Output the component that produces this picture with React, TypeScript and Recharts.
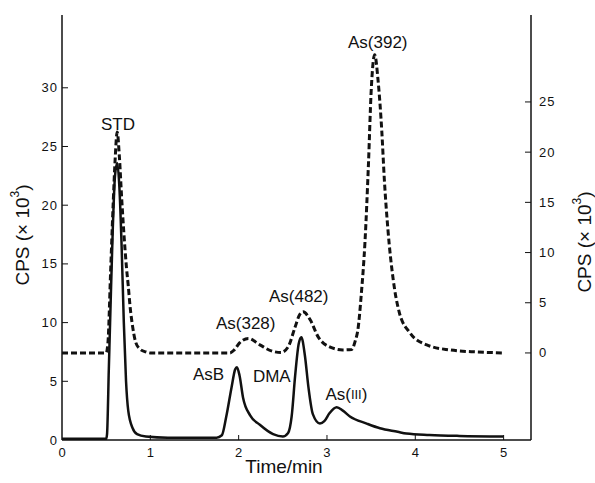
import { LineChart, Line, XAxis, YAxis, ReferenceDot } from "recharts";

const FONT = '"Liberation Sans", Arial, Helvetica, sans-serif';
const INK = "#111";

// axis ticks
const TIME_TICKS = [0, 1, 2, 3, 4, 5];
const LEFT_TICKS = [0, 5, 10, 15, 20, 25, 30];
const RIGHT_TICKS = [0, 5, 10, 15, 20, 25];

// solid trace (sample, left axis)
const sampleTime = [
  0, 0.3, 0.5, 0.51, 0.53, 0.55, 0.575, 0.6, 0.625, 0.65, 0.675, 0.7, 0.725, 0.75, 0.8, 0.85, 0.95,
  1.2, 1.5, 1.75, 1.81, 1.86, 1.92, 1.96, 1.98, 2.01, 2.05, 2.13, 2.24, 2.39, 2.5, 2.56, 2.6, 2.64,
  2.68, 2.71, 2.75, 2.79, 2.84, 2.92, 2.97, 3.03, 3.11, 3.18, 3.26, 3.45, 3.6, 3.8, 3.9, 4.16, 4.5, 5.0,
];
const sampleCps = [
  0.1, 0.1, 0.1, 0.5, 6, 11.5, 18, 22.5, 23.6, 21.5, 16.5, 10, 5, 2.5, 1, 0.5, 0.3,
  0.2, 0.2, 0.2, 0.4, 2, 4.5, 6, 6.2, 5.5, 3.6, 2.1, 1.3, 0.5, 0.3, 0.6, 2, 5.5,
  8.2, 8.75, 7.2, 4.5, 2.2, 1.4, 1.6, 2.3, 2.8, 2.5, 2.0, 1.4, 1.0, 0.7, 0.55, 0.43, 0.35, 0.3,
];

// dashed trace (standard mix, right axis)
const stdTime = [
  0, 0.5, 0.52, 0.55, 0.58, 0.6, 0.625, 0.65, 0.675, 0.7, 0.73, 0.75, 0.77, 0.8, 0.83, 0.88, 0.95,
  1.0, 1.5, 1.9, 1.95, 2.01, 2.11, 2.24, 2.39, 2.48, 2.56, 2.64, 2.69, 2.73, 2.81, 2.9, 3.03, 3.18,
  3.28, 3.32, 3.35, 3.39, 3.43, 3.47, 3.5, 3.54, 3.58, 3.62, 3.65, 3.69, 3.75, 3.82, 3.94, 4.13,
  4.39, 4.7, 5.0,
];
const stdCps = [
  0, 0, 1, 8, 15, 19, 22, 19.5, 15.5, 12, 8.5, 6.7, 4.7, 2.6, 1.2, 0.4, 0.1,
  0, 0, 0, 0.3, 1.0, 1.45, 0.8, 0.15, 0.05, 0.6, 2.6, 3.8, 4.1, 3.3, 1.6, 0.6, 0.3,
  0.35, 1.2, 2.3, 6, 11, 18.9, 26, 29.7, 27, 22.2, 17.2, 12.3, 7.3, 4, 2, 0.8,
  0.3, 0.1, 0,
];

// peak names, anchored in time / left-axis units
const peakText = ["STD", "As(392)", "As(482)", "As(328)", "AsB", "DMA", "As(III)"];
const peakTime = [0.633, 3.575, 2.68, 2.08, 1.66, 2.375, 3.22];
const peakCps = [26.9, 33.9, 12.2, 9.9, 5.6, 5.4, 3.9];

const sampleData = sampleTime.map((t, i) => ({ t, cps: sampleCps[i] }));
const stdData = stdTime.map((t, i) => ({ t, cps: stdCps[i] }));

const X_MAX = 5.31;
const LEFT_DOMAIN = [0, 36.2];
const RIGHT_DOMAIN = [-8.67, 33.66];

function LeftTick(props: any) {
  const { x, y, payload } = props;
  return (
    <g>
      {payload.value !== 0 && <line x1={x} x2={x + 6} y1={y} y2={y} stroke={INK} />}
      <text x={x - 4} y={y} dy={4.5} textAnchor="end" fontSize={13} letterSpacing={1} fontFamily={FONT} fill={INK}>
        {payload.value}
      </text>
    </g>
  );
}

function RightTick(props: any) {
  const { x, y, payload } = props;
  return (
    <g>
      <line x1={x - 6} x2={x} y1={y} y2={y} stroke={INK} />
      <text x={x + 8} y={y} dy={4.5} textAnchor="start" fontSize={13} letterSpacing={1} fontFamily={FONT} fill={INK}>
        {payload.value}
      </text>
    </g>
  );
}

function TimeTick(props: any) {
  const { x, y, payload } = props;
  return (
    <g>
      {payload.value !== 0 && <line x1={x} x2={x} y1={y} y2={y - 5} stroke={INK} />}
      <text x={x} y={y} dy={17} textAnchor="middle" fontSize={13} fontFamily={FONT} fill={INK}>
        {payload.value}
      </text>
    </g>
  );
}

function PeakName({ cx, cy, text }: any) {
  if (text === "As(III)") {
    return (
      <text x={cx} y={cy} textAnchor="middle" dominantBaseline="central" fontSize={17} fontFamily={FONT} fill={INK}>
        As(<tspan fontSize={13}>III</tspan>)
      </text>
    );
  }
  return (
    <text x={cx} y={cy} textAnchor="middle" dominantBaseline="central" fontSize={17} fontFamily={FONT} fill={INK}>
      {text}
    </text>
  );
}

function CpsTitle({ x, y }: { x: number; y: number }) {
  return (
    <text
      x={x}
      y={y}
      transform={`rotate(-90 ${x} ${y})`}
      textAnchor="middle"
      dominantBaseline="central"
      fontSize={19}
      fontFamily={FONT}
      fill={INK}
    >
      CPS (× 10<tspan fontSize={12} dy={-7}>3</tspan>
      <tspan dy={7}>)</tspan>
    </text>
  );
}

export default function App() {
  return (
    <div style={{ position: "absolute", left: 0, top: 0, width: 595, height: 483, background: "#fff" }}>
      <LineChart width={595} height={483} margin={{ top: 15, right: 0, bottom: 0, left: 0 }}>
        <XAxis
          dataKey="t"
          type="number"
          domain={[0, X_MAX]}
          allowDataOverflow
          ticks={TIME_TICKS}
          height={43}
          tickSize={0}
          tickMargin={0}
          tickLine={false}
          tick={<TimeTick />}
          axisLine={{ stroke: INK, strokeWidth: 1.5 }}
        />
        <XAxis
          xAxisId="top"
          orientation="top"
          type="number"
          domain={[0, X_MAX]}
          height={0}
          tick={false}
          tickLine={false}
          axisLine={{ stroke: INK, strokeWidth: 1.5 }}
        />
        <YAxis
          yAxisId="left"
          type="number"
          domain={LEFT_DOMAIN}
          allowDataOverflow
          ticks={LEFT_TICKS}
          width={62}
          tickSize={0}
          tickMargin={0}
          tickLine={false}
          tick={<LeftTick />}
          axisLine={{ stroke: INK, strokeWidth: 1.5 }}
        />
        <YAxis
          yAxisId="right"
          orientation="right"
          type="number"
          domain={RIGHT_DOMAIN}
          allowDataOverflow
          ticks={RIGHT_TICKS}
          width={64}
          tickSize={0}
          tickMargin={0}
          tickLine={false}
          tick={<RightTick />}
          axisLine={{ stroke: INK, strokeWidth: 1.5 }}
        />
        <Line
          yAxisId="left"
          data={sampleData}
          dataKey="cps"
          type="monotone"
          stroke={INK}
          strokeWidth={2.5}
          dot={false}
          isAnimationActive={false}
        />
        <Line
          yAxisId="right"
          data={stdData}
          dataKey="cps"
          type="monotone"
          stroke={INK}
          strokeWidth={3}
          strokeDasharray="6 3"
          dot={false}
          isAnimationActive={false}
        />
        {peakText.map((text, i) => (
          <ReferenceDot
            key={text}
            yAxisId="left"
            x={peakTime[i]}
            y={peakCps[i]}
            r={0}
            ifOverflow="visible"
            shape={(p: any) => <PeakName cx={p.cx} cy={p.cy} text={text} />}
          />
        ))}
      </LineChart>
      <svg width={595} height={483} style={{ position: "absolute", left: 0, top: 0, pointerEvents: "none" }}>
        <CpsTitle x={22} y={235} />
        <CpsTitle x={584} y={242} />
        <text x={284} y={466} textAnchor="middle" dominantBaseline="central" fontSize={19} fontFamily={FONT} fill={INK}>
          Time/min
        </text>
      </svg>
    </div>
  );
}
